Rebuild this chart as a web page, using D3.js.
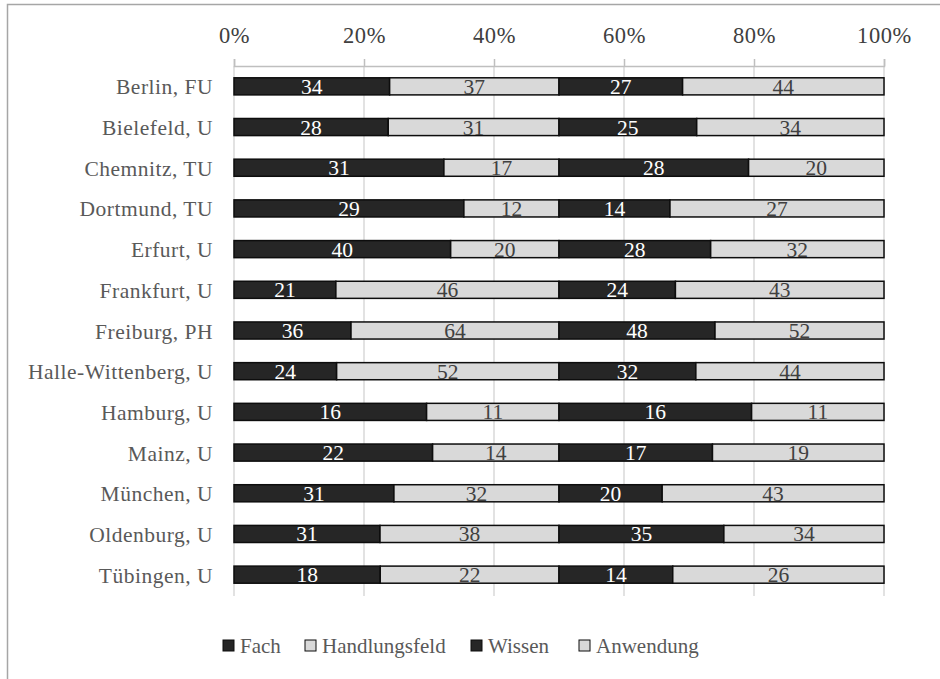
<!DOCTYPE html>
<html><head><meta charset="utf-8">
<script src="https://cdn.jsdelivr.net/npm/d3@7"></script>
<style>body{margin:0;background:#fff}svg{display:block}</style>
</head><body>
<svg id="c" width="940" height="679"></svg>
<script>
const categories = ["Berlin, FU","Bielefeld, U","Chemnitz, TU","Dortmund, TU","Erfurt, U","Frankfurt, U","Freiburg, PH","Halle-Wittenberg, U","Hamburg, U","Mainz, U","München, U","Oldenburg, U","Tübingen, U"];
const fach          = [34,28,31,29,40,21,36,24,16,22,31,31,18];
const handlungsfeld = [37,31,17,12,20,46,64,52,11,14,32,38,22];
const wissen        = [27,25,28,14,28,24,48,32,16,17,20,35,14];
const anwendung     = [44,34,20,27,32,43,52,44,11,19,43,34,26];
const seriesNames = ["Fach","Handlungsfeld","Wissen","Anwendung"];
const tickValues = [0,0.2,0.4,0.6,0.8,1.0];

const FONT = "'Liberation Serif', 'DejaVu Serif', serif";
const DARK = "#262626", LIGHT = "#d9d9d9";
const fills = [DARK, LIGHT, DARK, LIGHT];
const textFills = ["#ffffff", "#404040", "#ffffff", "#404040"];

const svg = d3.select("#c");
// outer chart border
svg.append("rect").attr("x",7.5).attr("y",4.5).attr("width",960).attr("height",700)
  .attr("fill","none").attr("stroke","#a6a6a6").attr("stroke-width",1.5);

const x = d3.scaleLinear().domain([0,1]).range([234,884]);
const y = d3.scaleBand().domain(categories).range([66,595]).paddingInner(0.58).paddingOuter(0.29);

// gridlines
svg.append("g").selectAll("line").data(tickValues).join("line")
  .attr("x1",d=>x(d)).attr("x2",d=>x(d)).attr("y1",66).attr("y2",596)
  .attr("stroke","#d9d9d9").attr("stroke-width",1.5);

// top axis
const axis = svg.append("g").attr("transform","translate(0,66)")
  .call(d3.axisTop(x).tickValues(tickValues).tickFormat(d3.format(".0%")).tickSize(7).tickPadding(16));
axis.select(".domain").attr("stroke","#bfbfbf").attr("stroke-width",1.5);
axis.selectAll(".tick line").attr("stroke","#bfbfbf").attr("stroke-width",1.5);
axis.selectAll(".tick text").attr("font-family",FONT).attr("font-size",22.5)
  .attr("letter-spacing",0.6).attr("fill","#404040");

// build segments: first half Fach/Handlungsfeld, second half Wissen/Anwendung
const rows = categories.map((c,i)=>{
  const a = fach[i], b = handlungsfeld[i], w = wissen[i], z = anwendung[i];
  const s1 = a+b, s2 = w+z;
  const segs = [
    {k:0, v:a, x0:0, x1:0.5*a/s1},
    {k:1, v:b, x0:0.5*a/s1, x1:0.5},
    {k:2, v:w, x0:0.5, x1:0.5+0.5*w/s2},
    {k:3, v:z, x0:0.5+0.5*w/s2, x1:1}
  ];
  return {c, segs};
});

const g = svg.append("g");
const rowG = g.selectAll("g.row").data(rows).join("g").attr("class","row")
  .attr("transform",d=>`translate(0,${y(d.c)})`);
rowG.selectAll("rect").data(d=>d.segs).join("rect")
  .attr("x",d=>x(d.x0)).attr("width",d=>x(d.x1)-x(d.x0))
  .attr("y",0).attr("height",y.bandwidth())
  .attr("fill",d=>fills[d.k]).attr("stroke","#0d0d0d").attr("stroke-width",1.5);
rowG.selectAll("text").data(d=>d.segs).join("text")
  .attr("x",d=>(x(d.x0)+x(d.x1))/2).attr("y",y.bandwidth()/2+7.5)
  .attr("text-anchor","middle").attr("font-family",FONT).attr("font-size",21.5)
  .attr("fill",d=>textFills[d.k]).text(d=>d.v);

// category labels
svg.append("g").selectAll("text").data(categories).join("text")
  .attr("x",213).attr("y",d=>y(d)+y.bandwidth()/2+8)
  .attr("text-anchor","end").attr("font-family",FONT).attr("font-size",21.5)
  .attr("letter-spacing",0.5)
  .attr("fill","#595959").text(d=>d);

// legend
const legX = [223,305,471,579];
const leg = svg.append("g").selectAll("g").data(seriesNames).join("g")
  .attr("transform",(d,i)=>`translate(${legX[i]},645.5)`);
leg.append("rect").attr("x",0).attr("y",-5.5).attr("width",11).attr("height",11)
  .attr("fill",(d,i)=>fills[i]).attr("stroke","#0d0d0d").attr("stroke-width",1);
leg.append("text").attr("x",17).attr("y",7).attr("font-family",FONT).attr("font-size",21)
  .attr("fill","#595959").text(d=>d);
</script>
</body></html>
